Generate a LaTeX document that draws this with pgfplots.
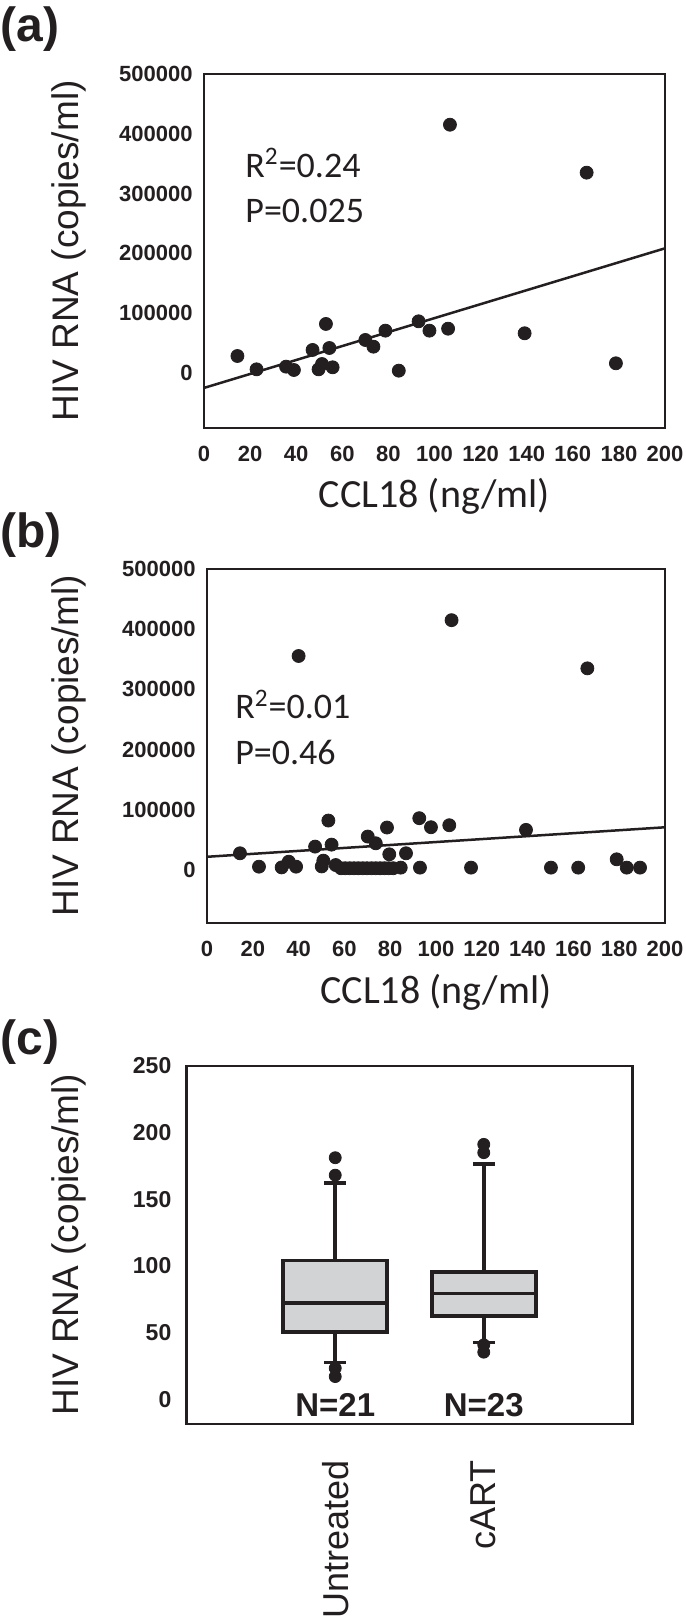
\documentclass[border=0pt]{standalone}
\usepackage{fontspec}
\setmainfont{Liberation Sans}
\newfontfamily\calib{Carlito}
\usepackage{pgfplots}
\pgfplotsset{compat=1.18}
\usepgfplotslibrary{statistics}
\definecolor{ink}{HTML}{231F20}
\definecolor{boxgray}{HTML}{D1D3D4}

% 1 px of the reference = 0.5pt here
\pgfplotsset{
  panel/.style={
    scale only axis, anchor=north west,
    axis line style={line width=1.3pt, ink},
    major tick length=0pt, scaled ticks=false,
    tick label style={font=\bfseries\fontsize{11}{13}\selectfont, text=ink, inner sep=0pt},
  },
  scat/.style={
    panel, xmin=0, xmax=200, ymax=500000,
    xtick={0,20,...,200},
    xticklabels={0,20,40,60,80,100,120,140,160,180,200},
    ytick={0,100000,200000,300000,400000,500000},
    yticklabels={0,100000,200000,300000,400000,500000},
    xticklabel style={yshift=-9pt},
    yticklabel style={xshift=-5.5pt},
  },
  dots/.style={only marks, mark=*, mark size=3.25pt, ink},
}
\newcommand{\ylab}{\fontsize{18.5}{20}\selectfont}
\newcommand{\xlab}{\calib\fontsize{20}{22}\selectfont}
\newcommand{\stat}{\calib\fontsize{18}{20}\selectfont}
\newcommand{\plab}{\bfseries\fontsize{24}{26}\selectfont}

\begin{document}
\begin{tikzpicture}

% (a) untreated
\begin{axis}[scat, name=a, at={(102pt,-37pt)}, width=230.5pt, height=177pt, ymin=-92000]
\addplot[dots] coordinates {
  (14.5,28400) (22.8,6100) (35.6,10600) (39.0,5000) (47.1,38500)
  (49.7,6100) (51.2,15000) (52.9,82000) (54.4,41800) (55.8,9500)
  (70.0,55200) (73.5,44000) (78.7,70800) (84.5,3900) (93.1,86400)
  (97.8,70800) (105.9,74100) (106.7,415200) (139.1,66400) (166.0,335000)
  (178.7,16200)
};
\addplot[line width=1.25pt, ink] coordinates {(0,-25000) (200,208500)};
\node[anchor=base west, inner sep=0pt, font=\stat, text=ink] at (axis cs:17.8,327000) {R\textsuperscript{2}=0.24};
\node[anchor=base west, inner sep=0pt, font=\stat, text=ink] at (axis cs:17.8,251000) {P=0.025};
\end{axis}
\node[anchor=base, inner sep=0pt, font=\xlab, text=ink] at ([yshift=-40pt]a.south) {CCL18 (ng/ml)};
\node[rotate=90, anchor=base, inner sep=0pt, font=\ylab, text=ink] at ([xshift=-63pt]a.west) {HIV RNA (copies/ml)};
\node[anchor=base west, inner sep=0pt, font=\plab, text=ink] at (0pt,-21pt) {(a)};

% (b) all subjects
\begin{axis}[scat, name=b, at={(103.5pt,-284.5pt)}, width=229pt, height=177pt, ymin=-88000]
\addplot[dots] coordinates {
  (14.4,27800) (22.7,5600) (32.6,4400) (35.7,13900) (38.9,5600)
  (40.0,355500) (47.2,38900) (50.1,6000) (50.8,15600) (53.0,82200)
  (54.4,42200) (56.2,8300)
  (58.5,3000) (60.4,3000) (62.3,3000) (64.2,3000) (66.1,3000) (68.0,3000)
  (69.9,3000) (71.8,3000) (73.7,3000) (75.6,3000) (77.5,3000) (79.4,3000) (81.3,3000)
  (70.2,55600) (73.7,44400) (78.6,70600) (79.6,26100) (84.6,4000)
  (86.9,27800) (92.7,86100) (93.0,4000) (97.8,71100) (105.8,74400)
  (106.8,415000) (115.3,4000) (139.3,66700) (150.2,4000) (162.1,4000)
  (166.1,335000) (178.9,17800) (183.3,4000) (189.1,4000)
};
\addplot[line width=1.25pt, ink] coordinates {(0,22000) (200,71000)};
\node[anchor=base west, inner sep=0pt, font=\stat, text=ink] at (axis cs:12.2,251000) {R\textsuperscript{2}=0.01};
\node[anchor=base west, inner sep=0pt, font=\stat, text=ink] at (axis cs:12.2,176000) {P=0.46};
\end{axis}
\node[anchor=base, inner sep=0pt, font=\xlab, text=ink] at ([yshift=-40pt]b.south) {CCL18 (ng/ml)};
\node[rotate=90, anchor=base, inner sep=0pt, font=\ylab, text=ink] at ([xshift=-64.5pt]b.west) {HIV RNA (copies/ml)};
\node[anchor=base west, inner sep=0pt, font=\plab, text=ink] at (0pt,-273.5pt) {(b)};

% (c) box plots
\begin{axis}[panel, name=c, at={(93.35pt,-533pt)}, width=222.8pt, height=179pt,
  xmin=0, xmax=3, ymin=-18.6, ymax=250,
  ytick={0,50,100,150,200,250}, yticklabels={0,50,100,150,200,250},
  yticklabel style={xshift=-7.5pt, font=\bfseries\fontsize{11.5}{13}\selectfont},
  xtick={1,2}, xticklabels={Untreated,cART},
  xticklabel style={rotate=90, anchor=east, xshift=-18pt, font=\fontsize{18}{20}\selectfont},
  boxplot/draw direction=y,
  boxplot/every box/.style={fill=boxgray, draw=ink},
  boxplot/every median/.style={line width=1.8pt, draw=ink},
]
\addplot[boxplot prepared={draw position=1, lower whisker=27.5, lower quartile=50.4,
    median=72.2, upper quartile=104.2, upper whisker=162.4, box extend=0.7, whisker extend=0.146},
  draw=ink, line width=1.8pt] coordinates {};
\addplot[boxplot prepared={draw position=2, lower whisker=42.6, lower quartile=62.6,
    median=79.2, upper quartile=95.5, upper whisker=176.7, box extend=0.7, whisker extend=0.146},
  draw=ink, line width=1.8pt] coordinates {};
% outliers
\addplot[only marks, mark=*, mark size=3pt, ink] coordinates {
  (1,181.2) (1,168.1) (1,23.3) (1,17)
  (2,191.2) (2,185) (2,40.8) (2,35.3)
};
\node[anchor=base, inner sep=0pt, font=\bfseries\fontsize{16.5}{18}\selectfont, text=ink] at (axis cs:1,-12.6) {N=21};
\node[anchor=base, inner sep=0pt, font=\bfseries\fontsize{16.5}{18}\selectfont, text=ink] at (axis cs:2,-12.6) {N=23};
\end{axis}
\node[rotate=90, anchor=base, inner sep=0pt, font=\ylab, text=ink] at ([xshift=-54pt]c.west) {HIV RNA (copies/ml)};
\node[anchor=base west, inner sep=0pt, font=\plab, text=ink] at (0pt,-527pt) {(c)};

\pgfresetboundingbox
\path[use as bounding box] (0pt,0pt) rectangle (342.5pt,-810.5pt);
\end{tikzpicture}
\end{document}
